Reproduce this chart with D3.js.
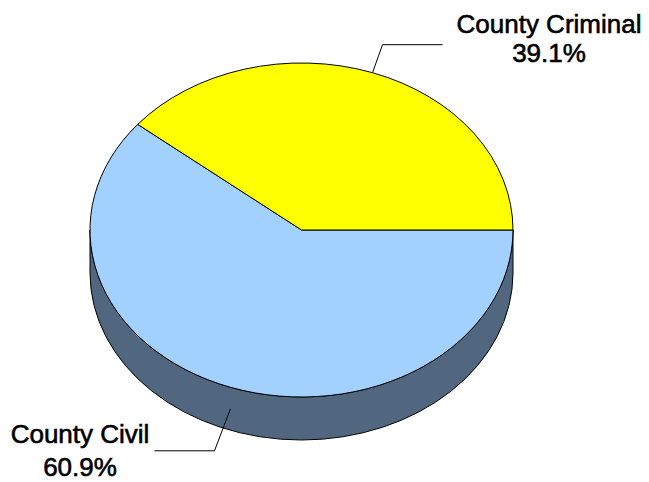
<!DOCTYPE html>
<html>
<head>
<meta charset="utf-8">
<script src="https://cdn.jsdelivr.net/npm/d3@7"></script>
<style>
  html, body { margin: 0; padding: 0; background: #fff; }
  svg { display: block; }
  text { font-family: "Liberation Sans", Arial, sans-serif; font-size: 26px; fill: #000;
         stroke: #000; stroke-width: 0.6px; }
</style>
</head>
<body>
<div id="chart"></div>
<script>
// Chart data
const categories = ["County Civil", "County Criminal"];
const shares = [60.9, 39.1];
const labels = ["60.9%", "39.1%"];
const topColors = ["#a3d1ff", "#ffff00"];
const sideColors = ["#50677f", "#9a9a00"];

const width = 649;
const height = 482;

// Ellipse geometry of the tilted pie
const cx = 301.5, cy = 230, rx = 211.5, ry = 167, depth = 43;

const svg = d3.select("#chart")
  .append("svg")
  .attr("width", width)
  .attr("height", height);

// d3.pie angles: clockwise from 12 o'clock; start Civil at 3 o'clock
const pie = d3.pie().sort(null).startAngle(Math.PI / 2).endAngle(Math.PI / 2 + 2 * Math.PI);
const arcs = pie(shares).map((d, i) => ({
  ...d,
  i,
  a0: d.startAngle - Math.PI / 2, // screen angle, clockwise from east
  a1: d.endAngle - Math.PI / 2
}));

function pt(a, dy = 0) {
  return [cx + rx * Math.cos(a), cy + ry * Math.sin(a) + dy];
}

function topPath(d) {
  const p0 = pt(d.a0), p1 = pt(d.a1);
  const large = d.a1 - d.a0 > Math.PI ? 1 : 0;
  return `M${cx},${cy}L${p0}A${rx},${ry} 0 ${large} 1 ${p1}Z`;
}

// Side band for the part of a slice that faces the viewer (screen angle 0..PI)
function sidePaths(d) {
  const out = [];
  [[0, Math.PI], [2 * Math.PI, 3 * Math.PI]].forEach(([lo, hi]) => {
    const s = Math.max(d.a0, lo), e = Math.min(d.a1, hi);
    if (e - s > 1e-6) {
      out.push(`M${pt(s)}A${rx},${ry} 0 0 1 ${pt(e)}L${pt(e, depth)}A${rx},${ry} 0 0 0 ${pt(s, depth)}Z`);
    }
  });
  return out;
}

const sides = [];
arcs.forEach(d => sidePaths(d).forEach(p => sides.push({ p, i: d.i })));

svg.append("g")
  .selectAll("path")
  .data(sides)
  .join("path")
  .attr("d", d => d.p)
  .attr("fill", d => sideColors[d.i])
  .attr("stroke", "#000")
  .attr("stroke-width", 1);

svg.append("g")
  .selectAll("path")
  .data(arcs)
  .join("path")
  .attr("d", topPath)
  .attr("fill", d => topColors[d.i])
  .attr("stroke", "#000")
  .attr("stroke-width", 1)
  .attr("stroke-linejoin", "round");

// Labels with leader lines
const labelLayout = [
  { dyStart: depth / 2, elbow: [-16, 42], end: -60, tx: 80, ty: [443, 476] },
  { dyStart: 0, elbow: [10, -28], end: 60, tx: 549, ty: [33, 62] }
];

arcs.forEach(d => {
  const L = labelLayout[d.i];
  const mid = (d.a0 + d.a1) / 2;
  const s = pt(mid, L.dyStart);
  const el = [s[0] + L.elbow[0], s[1] + L.elbow[1]];
  const en = [el[0] + L.end, el[1]];
  svg.append("polyline")
    .attr("points", [s, el, en].map(p => p.join(",")).join(" "))
    .attr("fill", "none")
    .attr("stroke", "#000")
    .attr("stroke-width", 1);

  const t = svg.append("text").attr("text-anchor", "middle");
  t.append("tspan").attr("x", L.tx).attr("y", L.ty[0]).text(categories[d.i]);
  t.append("tspan").attr("x", L.tx).attr("y", L.ty[1]).text(labels[d.i]);
});
</script>
</body>
</html>
